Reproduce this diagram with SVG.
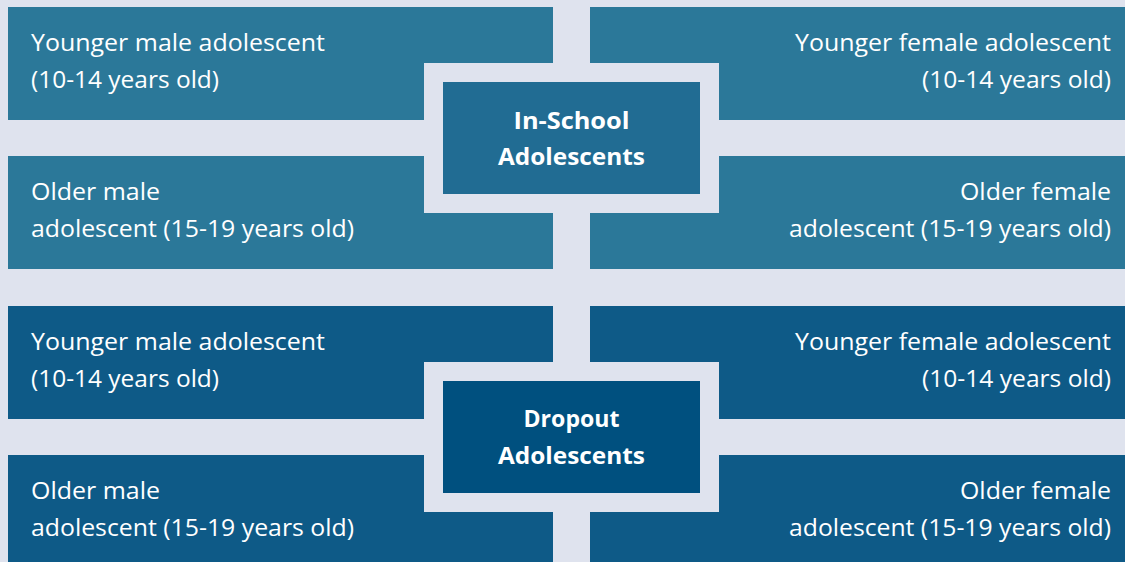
<svg xmlns="http://www.w3.org/2000/svg" width="1125" height="562" viewBox="0 0 1125 562">
<style>
.t{font-family:"Open Sans","Noto Sans","Liberation Sans",sans-serif;font-size:24px;fill:#ffffff;}
.b{font-family:"Open Sans","Noto Sans","Liberation Sans",sans-serif;font-size:24px;font-weight:bold;fill:#ffffff;text-anchor:middle;}
.r{text-anchor:end;}
.up{fill:#2b7899;}
.dn{fill:#0e5a87;}
.frame{fill:#dfe3ee;}
</style>
<rect width="1125" height="562" fill="#dfe3ee"/>
<g id="in-school-young-male"><rect class="up" x="8" y="7" width="545" height="113"/>
<text class="t" x="31" y="51" textLength="294" lengthAdjust="spacingAndGlyphs">Younger male adolescent</text>
<text class="t" x="31" y="88" textLength="188" lengthAdjust="spacingAndGlyphs">(10-14 years old)</text></g>
<g id="in-school-young-female"><rect class="up" x="590" y="7" width="535" height="113"/>
<text class="t r" x="1111" y="51" textLength="316" lengthAdjust="spacingAndGlyphs">Younger female adolescent</text>
<text class="t r" x="1111" y="88" textLength="189" lengthAdjust="spacingAndGlyphs">(10-14 years old)</text></g>
<g id="in-school-older-male"><rect class="up" x="8" y="156" width="545" height="113"/>
<text class="t" x="31" y="200" textLength="129" lengthAdjust="spacingAndGlyphs">Older male</text>
<text class="t" x="31" y="237" textLength="323" lengthAdjust="spacingAndGlyphs">adolescent (15-19 years old)</text></g>
<g id="in-school-older-female"><rect class="up" x="590" y="156" width="535" height="113"/>
<text class="t r" x="1111" y="200" textLength="151" lengthAdjust="spacingAndGlyphs">Older female</text>
<text class="t r" x="1111" y="237" textLength="322" lengthAdjust="spacingAndGlyphs">adolescent (15-19 years old)</text></g>
<g id="dropout-young-male"><rect class="dn" x="8" y="306" width="545" height="113"/>
<text class="t" x="31" y="350" textLength="294" lengthAdjust="spacingAndGlyphs">Younger male adolescent</text>
<text class="t" x="31" y="387" textLength="188" lengthAdjust="spacingAndGlyphs">(10-14 years old)</text></g>
<g id="dropout-young-female"><rect class="dn" x="590" y="306" width="535" height="113"/>
<text class="t r" x="1111" y="350" textLength="316" lengthAdjust="spacingAndGlyphs">Younger female adolescent</text>
<text class="t r" x="1111" y="387" textLength="189" lengthAdjust="spacingAndGlyphs">(10-14 years old)</text></g>
<g id="dropout-older-male"><rect class="dn" x="8" y="455" width="545" height="113"/>
<text class="t" x="31" y="499" textLength="129" lengthAdjust="spacingAndGlyphs">Older male</text>
<text class="t" x="31" y="536" textLength="323" lengthAdjust="spacingAndGlyphs">adolescent (15-19 years old)</text></g>
<g id="dropout-older-female"><rect class="dn" x="590" y="455" width="535" height="113"/>
<text class="t r" x="1111" y="499" textLength="151" lengthAdjust="spacingAndGlyphs">Older female</text>
<text class="t r" x="1111" y="536" textLength="322" lengthAdjust="spacingAndGlyphs">adolescent (15-19 years old)</text></g>
<g id="connectors"></g>
<g id="in-school"><rect class="frame" x="424" y="63" width="295" height="150"/>
<rect x="443" y="82" width="257" height="112" fill="#216c93"/>
<text class="b" x="571.5" y="129" textLength="116" lengthAdjust="spacingAndGlyphs">In-School</text>
<text class="b" x="571.5" y="165" textLength="147" lengthAdjust="spacingAndGlyphs">Adolescents</text></g>
<g id="dropout"><rect class="frame" x="424" y="362" width="295" height="150"/>
<rect x="443" y="381" width="257" height="112" fill="#00507f"/>
<text class="b" x="571.5" y="427" textLength="96" lengthAdjust="spacingAndGlyphs">Dropout</text>
<text class="b" x="571.5" y="464" textLength="147" lengthAdjust="spacingAndGlyphs">Adolescents</text></g>
</svg>
